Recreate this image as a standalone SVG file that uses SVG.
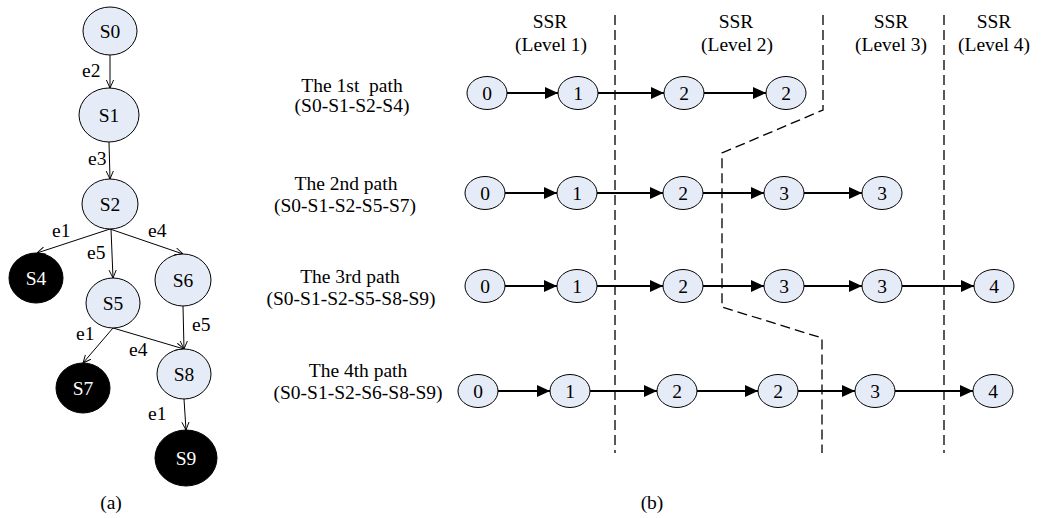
<svg xmlns="http://www.w3.org/2000/svg" width="1046" height="518" viewBox="0 0 1046 518">
<defs>
<style>
text{font-family:"Liberation Serif","Times New Roman",serif;font-size:19.5px;fill:#000}
.w{fill:#fff}
.c{text-anchor:middle}
.n{fill:#E6ECF7;stroke:#000;stroke-width:1}
.b{fill:#000;stroke:#000;stroke-width:1}
.e{stroke:#000;stroke-width:1;fill:none;marker-end:url(#open)}
.a{stroke:#000;stroke-width:1.8;fill:none;marker-end:url(#fill)}
.d{stroke:#000;stroke-width:1.3;fill:none;stroke-dasharray:10 5}
</style>
<marker id="open" viewBox="0 0 10 10" refX="10" refY="5" markerWidth="8" markerHeight="9" markerUnits="userSpaceOnUse" orient="auto">
<path d="M0,0.5 L10,5 L0,9.5" fill="none" stroke="#000" stroke-width="1.2"/>
</marker>
<marker id="fill" viewBox="0 0 13 12" refX="13" refY="6" markerWidth="13" markerHeight="12" markerUnits="userSpaceOnUse" orient="auto">
<path d="M0,0 L13,6 L0,12 z" fill="#000"/>
</marker>
</defs>
<rect width="1046" height="518" fill="#fff"/>

<g id="connectors">
<line class="e" x1="110" y1="55" x2="110" y2="88"/>
<line class="e" x1="109" y1="142" x2="110" y2="179"/>
<line class="e" x1="110" y1="229" x2="37" y2="253"/>
<line class="e" x1="111" y1="229" x2="113" y2="278"/>
<line class="e" x1="110" y1="229" x2="183" y2="254"/>
<line class="e" x1="113" y1="328" x2="83" y2="363"/>
<line class="e" x1="113" y1="328" x2="184" y2="349"/>
<line class="e" x1="183" y1="306" x2="184" y2="349"/>
<line class="e" x1="184" y1="399" x2="186" y2="430"/>

<line class="a" x1="507" y1="93" x2="558" y2="93"/>
<line class="a" x1="598" y1="93" x2="664" y2="93"/>
<line class="a" x1="704" y1="93" x2="766" y2="93"/>

<line class="a" x1="505" y1="193" x2="557" y2="193"/>
<line class="a" x1="597" y1="193" x2="663" y2="193"/>
<line class="a" x1="703" y1="193" x2="764" y2="193"/>
<line class="a" x1="804" y1="193" x2="862" y2="193"/>

<line class="a" x1="505" y1="286" x2="557" y2="286"/>
<line class="a" x1="597" y1="286" x2="663" y2="286"/>
<line class="a" x1="703" y1="286" x2="764" y2="286"/>
<line class="a" x1="804" y1="286" x2="862" y2="286"/>
<line class="a" x1="902" y1="286" x2="974" y2="286"/>

<line class="a" x1="498" y1="391" x2="550" y2="391"/>
<line class="a" x1="590" y1="391" x2="657" y2="391"/>
<line class="a" x1="697" y1="391" x2="758" y2="391"/>
<line class="a" x1="798" y1="391" x2="855" y2="391"/>
<line class="a" x1="895" y1="391" x2="973" y2="391"/>
</g>

<g id="edge-labels">
<text x="82" y="77">e2</text>
<text x="88" y="165">e3</text>
<text x="52" y="237">e1</text>
<text x="148" y="237">e4</text>
<text x="87" y="259">e5</text>
<text x="192" y="331">e5</text>
<text x="76" y="340">e1</text>
<text x="129" y="356">e4</text>
<text x="148" y="420">e1</text>
</g>

<g id="S0"><ellipse class="n" cx="110" cy="31" rx="27" ry="24"/><text class="c" x="110" y="38">S0</text></g>
<g id="S1"><ellipse class="n" cx="109" cy="115" rx="30" ry="27"/><text class="c" x="109" y="122">S1</text></g>
<g id="S2"><ellipse class="n" cx="110" cy="204" rx="28" ry="25"/><text class="c" x="110" y="211">S2</text></g>
<g id="S4"><ellipse class="b" cx="36" cy="278" rx="27" ry="25"/><text class="c w" x="36" y="285">S4</text></g>
<g id="S5"><ellipse class="n" cx="113" cy="303" rx="27" ry="25"/><text class="c" x="113" y="310">S5</text></g>
<g id="S6"><ellipse class="n" cx="183" cy="280" rx="28" ry="26"/><text class="c" x="183" y="287">S6</text></g>
<g id="S7"><ellipse class="b" cx="83" cy="388" rx="27" ry="25"/><text class="c w" x="83" y="395">S7</text></g>
<g id="S8"><ellipse class="n" cx="184" cy="374" rx="27" ry="25"/><text class="c" x="184" y="381">S8</text></g>
<g id="S9"><ellipse class="b" cx="186" cy="458" rx="31" ry="28"/><text class="c w" x="186" y="465">S9</text></g>
<text class="c" x="111" y="509">(a)</text>

<g id="boundaries">
<line class="d" x1="615" y1="15" x2="615" y2="453"/>
<path class="d" d="M823,15 V110 L722,153 V307 L822,338 V453"/>
<line class="d" x1="944" y1="15" x2="944" y2="453"/>
</g>

<g id="headers">
<text class="c" x="550" y="28">SSR</text><text class="c" x="551" y="51">(Level 1)</text>
<text class="c" x="736" y="28">SSR</text><text class="c" x="737" y="51">(Level 2)</text>
<text class="c" x="891" y="28">SSR</text><text class="c" x="891" y="51">(Level 3)</text>
<text class="c" x="994" y="28">SSR</text><text class="c" x="994" y="51">(Level 4)</text>
</g>

<g id="path-labels">
<text class="c" x="352" y="92" xml:space="preserve">The 1st  path</text>
<text class="c" x="352" y="112">(S0-S1-S2-S4)</text>
<text class="c" x="346" y="190">The 2nd path</text>
<text class="c" x="345" y="212">(S0-S1-S2-S5-S7)</text>
<text class="c" x="350" y="283">The 3rd path</text>
<text class="c" x="351" y="305">(S0-S1-S2-S5-S8-S9)</text>
<text class="c" x="358" y="377">The 4th path</text>
<text class="c" x="358" y="399">(S0-S1-S2-S6-S8-S9)</text>
</g>

<g id="p1-0"><ellipse class="n" cx="487" cy="93" rx="20" ry="16.5"/><text class="c" x="487" y="100">0</text></g>
<g id="p1-1"><ellipse class="n" cx="578" cy="93" rx="20" ry="16.5"/><text class="c" x="578" y="100">1</text></g>
<g id="p1-2a"><ellipse class="n" cx="684" cy="93" rx="20" ry="16.5"/><text class="c" x="684" y="100">2</text></g>
<g id="p1-2b"><ellipse class="n" cx="786" cy="93" rx="20" ry="16.5"/><text class="c" x="786" y="100">2</text></g>

<g id="p2-0"><ellipse class="n" cx="485" cy="193" rx="20" ry="16.5"/><text class="c" x="485" y="200">0</text></g>
<g id="p2-1"><ellipse class="n" cx="577" cy="193" rx="20" ry="16.5"/><text class="c" x="577" y="200">1</text></g>
<g id="p2-2"><ellipse class="n" cx="683" cy="193" rx="20" ry="16.5"/><text class="c" x="683" y="200">2</text></g>
<g id="p2-3a"><ellipse class="n" cx="784" cy="193" rx="20" ry="16.5"/><text class="c" x="784" y="200">3</text></g>
<g id="p2-3b"><ellipse class="n" cx="882" cy="193" rx="20" ry="16.5"/><text class="c" x="882" y="200">3</text></g>

<g id="p3-0"><ellipse class="n" cx="485" cy="286" rx="20" ry="16.5"/><text class="c" x="485" y="293">0</text></g>
<g id="p3-1"><ellipse class="n" cx="577" cy="286" rx="20" ry="16.5"/><text class="c" x="577" y="293">1</text></g>
<g id="p3-2"><ellipse class="n" cx="683" cy="286" rx="20" ry="16.5"/><text class="c" x="683" y="293">2</text></g>
<g id="p3-3a"><ellipse class="n" cx="784" cy="286" rx="20" ry="16.5"/><text class="c" x="784" y="293">3</text></g>
<g id="p3-3b"><ellipse class="n" cx="882" cy="286" rx="20" ry="16.5"/><text class="c" x="882" y="293">3</text></g>
<g id="p3-4"><ellipse class="n" cx="994" cy="286" rx="20" ry="16.5"/><text class="c" x="994" y="293">4</text></g>

<g id="p4-0"><ellipse class="n" cx="478" cy="391" rx="20" ry="16.5"/><text class="c" x="478" y="398">0</text></g>
<g id="p4-1"><ellipse class="n" cx="570" cy="391" rx="20" ry="16.5"/><text class="c" x="570" y="398">1</text></g>
<g id="p4-2a"><ellipse class="n" cx="677" cy="391" rx="20" ry="16.5"/><text class="c" x="677" y="398">2</text></g>
<g id="p4-2b"><ellipse class="n" cx="778" cy="391" rx="20" ry="16.5"/><text class="c" x="778" y="398">2</text></g>
<g id="p4-3"><ellipse class="n" cx="875" cy="391" rx="20" ry="16.5"/><text class="c" x="875" y="398">3</text></g>
<g id="p4-4"><ellipse class="n" cx="993" cy="391" rx="20" ry="16.5"/><text class="c" x="993" y="398">4</text></g>
<text class="c" x="652" y="509">(b)</text>
</svg>
